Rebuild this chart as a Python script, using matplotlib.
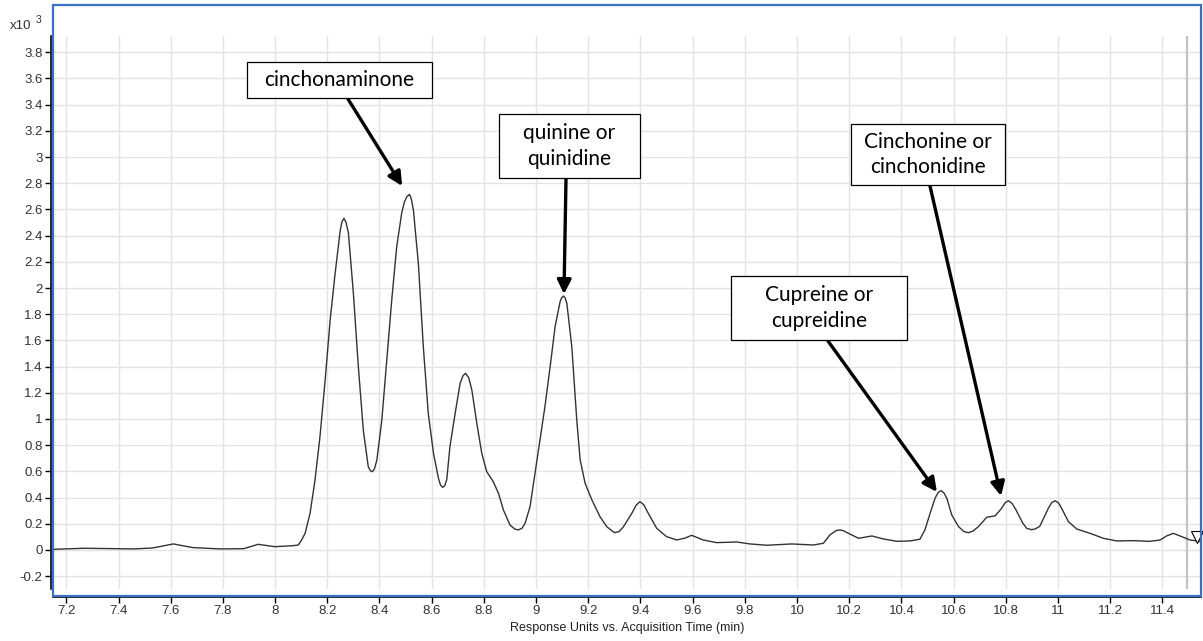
import matplotlib.pyplot as plt
from matplotlib.patches import Rectangle
import numpy as np

# acquisition time (min) and response (x10^3 counts)
time = [7.15, 7.27, 7.46, 7.53, 7.61, 7.685, 7.79, 7.88, 7.935, 8.00,
        8.07, 8.089, 8.10, 8.115, 8.134, 8.153, 8.172, 8.192, 8.211, 8.230,
        8.249, 8.256, 8.264, 8.272, 8.281, 8.300, 8.319, 8.338, 8.357, 8.365,
        8.373, 8.381, 8.390, 8.409, 8.428, 8.447, 8.466, 8.485, 8.495, 8.505,
        8.515, 8.522, 8.530, 8.549, 8.568, 8.587, 8.607, 8.626, 8.634, 8.642,
        8.650, 8.658, 8.670, 8.690, 8.709, 8.720, 8.730, 8.742, 8.754, 8.773,
        8.792, 8.811, 8.836, 8.856, 8.875, 8.900, 8.918, 8.932, 8.946, 8.958,
        8.977, 8.996, 9.015, 9.034, 9.054, 9.073, 9.092, 9.098, 9.105, 9.112,
        9.118, 9.137, 9.156, 9.169, 9.188, 9.214, 9.245, 9.271, 9.300, 9.318,
        9.335, 9.367, 9.383, 9.398, 9.413, 9.430, 9.462, 9.500, 9.539, 9.570,
        9.596, 9.641, 9.692, 9.769, 9.820, 9.884, 9.980, 10.062, 10.101, 10.126,
        10.150, 10.165, 10.180, 10.197, 10.236, 10.287, 10.331, 10.383, 10.433, 10.471,
        10.490, 10.510, 10.529, 10.541, 10.552, 10.563, 10.574, 10.593, 10.619, 10.640,
        10.657, 10.675, 10.695, 10.727, 10.759, 10.784, 10.797, 10.810, 10.824, 10.838,
        10.865, 10.880, 10.898, 10.912, 10.930, 10.963, 10.976, 10.989, 11.002, 11.014,
        11.040, 11.072, 11.123, 11.174, 11.225, 11.289, 11.352, 11.391, 11.416, 11.442,
        11.474, 11.506, 11.544]
response = [0.005, 0.013, 0.008, 0.015, 0.046, 0.018, 0.008, 0.010, 0.043, 0.025,
            0.033, 0.038, 0.070, 0.127, 0.280, 0.534, 0.865, 1.300, 1.756, 2.110,
            2.430, 2.505, 2.532, 2.500, 2.420, 1.960, 1.400, 0.916, 0.636, 0.605,
            0.598, 0.620, 0.687, 0.992, 1.450, 1.908, 2.315, 2.570, 2.655, 2.697,
            2.715, 2.680, 2.595, 2.188, 1.552, 1.043, 0.738, 0.547, 0.495, 0.478,
            0.490, 0.540, 0.789, 1.043, 1.272, 1.330, 1.349, 1.315, 1.221, 0.967,
            0.738, 0.598, 0.521, 0.433, 0.305, 0.191, 0.160, 0.153, 0.165, 0.204,
            0.331, 0.585, 0.840, 1.094, 1.399, 1.705, 1.895, 1.925, 1.939, 1.922,
            1.883, 1.552, 0.992, 0.687, 0.509, 0.382, 0.254, 0.178, 0.132, 0.140,
            0.178, 0.280, 0.340, 0.369, 0.345, 0.280, 0.166, 0.102, 0.076, 0.090,
            0.112, 0.076, 0.056, 0.061, 0.046, 0.036, 0.046, 0.038, 0.051, 0.115,
            0.148, 0.153, 0.145, 0.127, 0.089, 0.107, 0.084, 0.066, 0.069, 0.082,
            0.153, 0.280, 0.395, 0.440, 0.453, 0.435, 0.395, 0.267, 0.178, 0.140,
            0.132, 0.145, 0.178, 0.250, 0.260, 0.318, 0.360, 0.376, 0.355, 0.310,
            0.205, 0.165, 0.155, 0.160, 0.180, 0.318, 0.362, 0.376, 0.360, 0.318,
            0.216, 0.160, 0.127, 0.089, 0.069, 0.071, 0.066, 0.076, 0.107, 0.127,
            0.102, 0.076, 0.066]

labels = ["cinchonaminone", "quinine or\nquinidine",
          "Cupreine or\ncupreidine", "Cinchonine or\ncinchonidine"]
label_time = [8.487, 9.107, 10.536, 10.782]
label_resp = [2.779, 1.954, 0.443, 0.412]

x_ticks = np.arange(7.2, 11.41, 0.2)
y_ticks = np.arange(-0.2, 3.81, 0.2)

W, H = 1203, 641
fig = plt.figure(figsize=(W / 100, H / 100), dpi=100)
ax = fig.add_axes([53 / W, (H - 589) / H, (1201 - 53) / W, (589 - 36) / H])

ax.plot(time, response, color="#333333", lw=1.0, zorder=3)
ax.axvline(11.493, color="#c4c4c4", lw=1.6, zorder=2)
ax.plot([11.533], [0.10], marker="v", ms=8, mfc="white", mec="black",
        mew=0.8, clip_on=False, zorder=4)

ax.set_xlim(7.149, 11.548)
ax.set_ylim(-0.298, 3.924)
ax.set_xticks(x_ticks)
ax.set_xticklabels(["%g" % round(v, 1) for v in x_ticks])
ax.set_yticks(y_ticks)
ax.set_yticklabels(["%g" % round(v, 1) for v in y_ticks])
ax.grid(True, color="#e3e3e3", lw=1.0, zorder=0)
ax.set_axisbelow(True)

for side in ["top", "right"]:
    ax.spines[side].set_visible(False)
ax.spines["bottom"].set_position(("outward", 5.8))
ax.spines["left"].set_position(("outward", 1.4))
ax.spines["bottom"].set_linewidth(1.2)
ax.spines["left"].set_linewidth(1.2)
ax.tick_params(axis="both", direction="out", length=4, width=1,
               labelsize=9.5, labelcolor="#333333", pad=2,
               labelfontfamily="Liberation Sans")

ax.set_xlabel("Response Units vs. Acquisition Time (min)", fontsize=9,
              family="Liberation Sans", color="#222222", labelpad=3)

fig.text(10 / W, 1 - 29 / H, "x10", fontsize=9.5, family="Liberation Sans",
         color="#333333")
fig.text(36 / W, 1 - 23 / H, "3", fontsize=7.5, family="Liberation Sans",
         color="#333333")

# blue selection frame around the plot panel
fig.patches.append(Rectangle((53 / W, (H - 596) / H), (1201 - 53) / W, (596 - 5) / H,
                             transform=fig.transFigure, fill=False,
                             edgecolor="#3b6fc6", lw=1.6, zorder=10))

# label boxes (pixel extents) and arrow tails
boxes = [(247, 62, 432, 98), (499, 114, 640, 178),
         (731, 276, 907, 340), (851, 124, 1005, 185)]
tails = [(348, 99), (566, 179), (828, 341), (930, 186)]

for text, (x0, y0, x1, y1), (tx, ty), lx, ly in zip(labels, boxes, tails,
                                                   label_time, label_resp):
    fig.patches.append(Rectangle((x0 / W, 1 - y1 / H), (x1 - x0) / W, (y1 - y0) / H,
                                 transform=fig.transFigure, facecolor="white",
                                 edgecolor="black", lw=0.9, zorder=5))
    fig.text((x0 + x1) / 2 / W, 1 - (y0 + y1) / 2 / H, text, ha="center",
             va="center", fontsize=15, family="Lato", linespacing=1.35,
             zorder=6)
    ax.annotate("", xy=(lx, ly), xycoords="data", xytext=(tx, H - ty),
                textcoords="figure pixels",
                arrowprops=dict(arrowstyle="-|>,head_length=0.7,head_width=0.35",
                                lw=2.4, color="black", shrinkA=0, shrinkB=0,
                                mutation_scale=12),
                annotation_clip=False, zorder=7)

plt.savefig("out.png", dpi=100)
